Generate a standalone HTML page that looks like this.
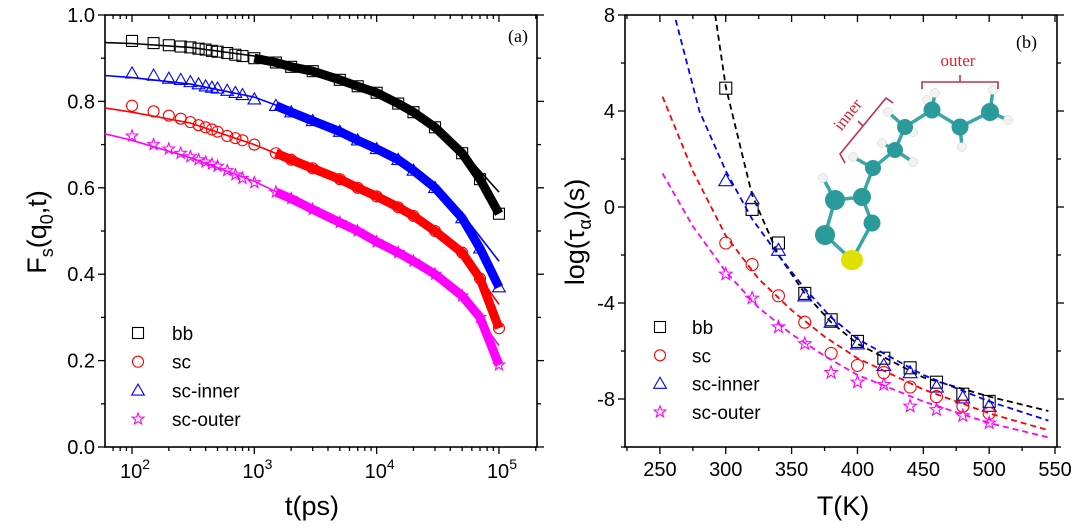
<!DOCTYPE html>
<html><head><meta charset="utf-8"><style>
body{margin:0;background:#fff;}
svg{display:block;font-family:"Liberation Sans",sans-serif;}
</style></head><body>
<svg id="fig" width="1080" height="529" viewBox="0 0 1080 529" xmlns="http://www.w3.org/2000/svg">
<g id="pa"></g>
<g id="pb"></g>
<g id="mol"></g>
</svg>
<script>
// ---- Panel (a) data ----
const tTimes = [100,150,200,250,300,350,400,450,500,600,700,800,1000,1500,2000,3000,5000,7000,10000,15000,20000,30000,50000,70000,100000];
const bbData = [0.94,0.935,0.93,0.927,0.925,0.922,0.92,0.917,0.915,0.912,0.908,0.905,0.90,0.89,0.88,0.87,0.85,0.835,0.82,0.795,0.775,0.74,0.68,0.62,0.54];
const scData = [0.79,0.777,0.767,0.76,0.752,0.745,0.74,0.735,0.73,0.72,0.715,0.71,0.70,0.68,0.665,0.645,0.62,0.60,0.58,0.555,0.535,0.50,0.45,0.39,0.275];
const innerData = [0.865,0.86,0.853,0.85,0.845,0.84,0.835,0.832,0.83,0.825,0.82,0.815,0.805,0.79,0.775,0.755,0.73,0.71,0.69,0.665,0.64,0.60,0.53,0.46,0.37];
const outerData = [0.72,0.70,0.69,0.68,0.672,0.665,0.66,0.655,0.65,0.64,0.63,0.622,0.612,0.59,0.575,0.55,0.52,0.50,0.475,0.45,0.43,0.40,0.35,0.30,0.19];
const fitTimes = [60,100,300,1000,3000,10000,30000,50000,100000];
const bbFit = [0.936,0.934,0.925,0.905,0.87,0.82,0.74,0.685,0.59];
const innerFit = [0.86,0.855,0.84,0.81,0.76,0.69,0.60,0.54,0.43];
const scFit = [0.785,0.775,0.75,0.70,0.645,0.58,0.50,0.45,0.33];
const outerFit = [0.725,0.71,0.67,0.615,0.55,0.475,0.40,0.35,0.235];
const aYTicks = ["0.0","0.2","0.4","0.6","0.8","1.0"];
const aXTickExp = ["2","3","4","5"];

// ---- Panel (b) data ----
const temps = [300,320,340,360,380,400,420,440,460,480,500];
const bbTau = [4.95,-0.1,-1.5,-3.6,-4.7,-5.6,-6.3,-6.7,-7.3,-7.8,-8.1];
const innerTau = [1.1,0.35,-1.8,-3.7,-4.8,-5.7,-6.6,-6.9,-7.5,-7.95,-8.3];
const scTau = [-1.5,-2.4,-3.7,-4.8,-6.1,-6.6,-6.9,-7.5,-7.9,-8.3,-8.6];
const outerTau = [-2.8,-3.8,-5.0,-5.7,-6.9,-7.3,-7.4,-8.3,-8.45,-8.7,-9.0];
const bbFitT = [292,300,320,340,360,380,400,450,500,545];
const bbFitV = [8,5.0,0.5,-2.0,-3.6,-4.8,-5.7,-7.1,-7.9,-8.5];
const innerFitT = [262,280,300,320,340,360,380,400,450,500,545];
const innerFitV = [7.8,4.0,1.5,-0.5,-2.0,-3.4,-4.6,-5.5,-7.0,-8.1,-8.9];
const scFitT = [252,275,300,325,350,375,400,450,500,545];
const scFitV = [4.6,1.5,-1.2,-3.0,-4.3,-5.4,-6.3,-7.6,-8.6,-9.3];
const outerFitT = [252,275,300,325,350,375,400,450,500,545];
const outerFitV = [1.4,-0.8,-2.7,-4.2,-5.3,-6.2,-7.0,-8.1,-9.0,-9.6];
const bXTicks = [250,300,350,400,450,500,550];
const bYTicks = [-8,-4,0,4,8];

const NS="http://www.w3.org/2000/svg";
function mk(parent,tag,attrs,text){const e=document.createElementNS(NS,tag);for(const k in attrs)e.setAttribute(k,attrs[k]);if(text!==undefined)e.textContent=text;parent.appendChild(e);return e;}

function marker(g,type,x,y,color,s){
  let e;
  if(type==='sq'){e=mk(g,'rect',{x:x-s,y:y-s,width:2*s,height:2*s,fill:'none',stroke:color,'stroke-width':1.1});}
  else if(type==='ci'){e=mk(g,'circle',{cx:x,cy:y,r:s,fill:'none',stroke:color,'stroke-width':1.1});}
  else if(type==='tr'){e=mk(g,'polygon',{points:`${x},${y-s*1.15} ${x-s*1.15},${y+s*0.85} ${x+s*1.15},${y+s*0.85}`,fill:'none',stroke:color,'stroke-width':1.1});}
  else {let p=[];for(let i=0;i<10;i++){const r=i%2?s*0.45:s*1.1;const a=-Math.PI/2+i*Math.PI/5;p.push((x+r*Math.cos(a)).toFixed(1)+','+(y+r*Math.sin(a)).toFixed(1));}
    e=mk(g,'polygon',{points:p.join(' '),fill:'none',stroke:color,'stroke-width':1.1});}
  return e;
}

// ===== Panel A =====
const pa=document.getElementById('pa');
const aL=105,aR=537,aT=15,aB=447;
const lmin=1.779,lmax=5.311;
const ax=t=>aL+(Math.log10(t)-lmin)/(lmax-lmin)*(aR-aL);
const ay=v=>aB-v*(aB-aT);
mk(pa,'rect',{x:aL,y:aT,width:aR-aL,height:aB-aT,fill:'none',stroke:'#000','stroke-width':1.6});
for(let i=0;i<=10;i++){const v=i/10,y=ay(v),len=i%2?4:7;
  mk(pa,'line',{x1:aL-len,y1:y,x2:aL,y2:y,stroke:'#000','stroke-width':1.3});
  mk(pa,'line',{x1:aR,y1:y,x2:aR+len,y2:y,stroke:'#000','stroke-width':1.3});}
aYTicks.forEach((lab,i)=>{const t=mk(pa,'text',{x:aL-10,y:ay(parseFloat(lab))+7,'font-size':20,'text-anchor':'end'},lab);
  });
for(let d=1;d<=5;d++)for(let m=1;m<10;m++){const t=m*Math.pow(10,d);if(Math.log10(t)<lmin||Math.log10(t)>lmax)continue;const x=ax(t),len=m===1?7:4;
  mk(pa,'line',{x1:x,y1:aB,x2:x,y2:aB+len,stroke:'#000','stroke-width':1.3});
  mk(pa,'line',{x1:x,y1:aT,x2:x,y2:aT+len,stroke:'#000','stroke-width':1.3});}
aXTickExp.forEach(e=>{const x=ax(Math.pow(10,+e));const t=mk(pa,'text',{x:x+3,y:478,'font-size':20,'text-anchor':'middle'});
  
  mk(t,'tspan',{},'10');mk(t,'tspan',{dy:-9,'font-size':14},e);});
let tl=mk(pa,'text',{x:312,y:515,'font-size':27,'text-anchor':'middle'},'t(ps)');
let yl=mk(pa,'text',{transform:'translate(46,232) rotate(-90)','font-size':27,'text-anchor':'middle'});

mk(yl,'tspan',{},'F');mk(yl,'tspan',{dy:7,'font-size':18},'s');mk(yl,'tspan',{dy:-7},'(q');mk(yl,'tspan',{dy:7,'font-size':18},'0');mk(yl,'tspan',{dy:-7},',t)');
let la=mk(pa,'text',{x:528,y:42,'font-size':18,'text-anchor':'end','font-family':'Liberation Serif, serif'},'(a)');

const aSeries=[[bbData,bbFit,'#000','sq','bb',1000],[innerData,innerFit,'#0000ff','tr','sc-inner',1500],[scData,scFit,'#ff0000','ci','sc',1500],[outerData,outerFit,'#ff00ff','st','sc-outer',1500]];
aSeries.forEach(([d,f,c,typ,name,bandFrom])=>{
  const g=mk(pa,'g',{});
  const band=[];tTimes.forEach((t,i)=>{if(t>=bandFrom)band.push(ax(t).toFixed(1)+','+ay(d[i]).toFixed(1));});
  mk(g,'polyline',{points:band.join(' '),fill:'none',stroke:c,'stroke-width':9,'stroke-linejoin':'round'});
  tTimes.forEach((t,i)=>{const m=marker(g,typ,ax(t),ay(d[i]),c,5.5);});
  const fp=fitTimes.map((t,i)=>ax(t).toFixed(1)+','+ay(f[i]).toFixed(1)).join(' ');
  const fl=mk(g,'polyline',{points:fp,fill:'none',stroke:c,'stroke-width':1.6});
});
const legA=mk(pa,'g',{});
[['sq','#000','bb'],['ci','#ff0000','sc'],['tr','#0000ff','sc-inner'],['st','#ff00ff','sc-outer']].forEach(([typ,c,n],i)=>{
  const y=333+i*28.7;const g=mk(legA,'g',{});
  marker(g,typ,138,y,c,5.5);mk(g,'text',{x:172,y:y+7,'font-size':19},n);});

// ===== Panel B =====
const pb=document.getElementById('pb');
const bL=625,bR=1057,bT=15,bB=447,tmin=223.5,tmax=551.5,vmin=-10,vmax=8;
const bx=T=>bL+(T-tmin)/(tmax-tmin)*(bR-bL);
const by=v=>bB-(v-vmin)/(vmax-vmin)*(bB-bT);
mk(pb,'rect',{x:bL,y:bT,width:bR-bL,height:bB-bT,fill:'none',stroke:'#000','stroke-width':1.6});
for(let v=-10;v<=8;v+=2){const y=by(v),len=v%4===0?7:4;
  mk(pb,'line',{x1:bL-len,y1:y,x2:bL,y2:y,stroke:'#000','stroke-width':1.3});
  mk(pb,'line',{x1:bR,y1:y,x2:bR+len,y2:y,stroke:'#000','stroke-width':1.3});}
bYTicks.forEach(v=>{const t=mk(pb,'text',{x:bL-10,y:by(v)+7,'font-size':20,'text-anchor':'end'},String(v));
  });
for(let T=225;T<=550;T+=25){const x=bx(T),len=T%50===0?7:4;
  mk(pb,'line',{x1:x,y1:bB,x2:x,y2:bB+len,stroke:'#000','stroke-width':1.3});
  mk(pb,'line',{x1:x,y1:bT,x2:x,y2:bT+len,stroke:'#000','stroke-width':1.3});}
bXTicks.forEach(T=>{const t=mk(pb,'text',{x:bx(T),y:476,'font-size':20,'text-anchor':'middle'},String(T));
  });
tl=mk(pb,'text',{x:843,y:515,'font-size':27,'text-anchor':'middle'},'T(K)');
yl=mk(pb,'text',{transform:'translate(584,232) rotate(-90)','font-size':27,'text-anchor':'middle'});

mk(yl,'tspan',{},'log(τ');mk(yl,'tspan',{dy:7,'font-size':18},'α');mk(yl,'tspan',{dy:-7},')(s)');
la=mk(pb,'text',{x:1037,y:48,'font-size':18,'text-anchor':'end','font-family':'Liberation Serif, serif'},'(b)');

const bSeries=[[bbFitT,bbFitV,bbTau,'#000','sq','bb'],[innerFitT,innerFitV,innerTau,'#0000ff','tr','sc-inner'],[scFitT,scFitV,scTau,'#ff0000','ci','sc'],[outerFitT,outerFitV,outerTau,'#ff00ff','st','sc-outer']];
bSeries.forEach(([ft,fv,d,c,typ,name])=>{
  const g=mk(pb,'g',{});
  const fl=mk(g,'polyline',{points:ft.map((T,i)=>bx(T).toFixed(1)+','+by(fv[i]).toFixed(1)).join(' '),fill:'none',stroke:c,'stroke-width':1.8,'stroke-dasharray':'6,4'});
  
  temps.forEach((T,i)=>{const m=marker(g,typ,bx(T),by(d[i]),c,6);});
});
const legB=mk(pb,'g',{});
[['sq','#000','bb'],['ci','#ff0000','sc'],['tr','#0000ff','sc-inner'],['st','#ff00ff','sc-outer']].forEach(([typ,c,n],i)=>{
  const y=327+i*28.3;const g=mk(legB,'g',{});
  marker(g,typ,660,y,c,5.5);mk(g,'text',{x:692,y:y+7,'font-size':19},n);});

// ===== Molecule =====
const mol=document.getElementById('mol');
const bonds=[[852,260,825,235],[825,235,835,200],[835,200,862,197],[862,197,872,223],[872,223,852,260],[835,200,823,178],[862,197,873,168],[873,168,895,150],[895,150,905,127],[905,127,932,110],[932,110,960,127],[960,127,990,112],
[873,168,853,157],[895,150,882,143],[895,150,913,162],[905,127,888,112],[905,127,913,132],[932,110,927,100],[932,110,935,93],[960,127,962,147],[990,112,993,90],[990,112,1008,120]];
bonds.forEach(b=>mk(mol,'line',{x1:b[0],y1:b[1],x2:b[2],y2:b[3],stroke:'#3aa6a6','stroke-width':3.5}));
[[823,178],[853,157],[882,143],[913,162],[888,112],[913,132],[927,100],[935,93],[962,147],[993,90],[1008,120]].forEach(h=>mk(mol,'circle',{cx:h[0],cy:h[1],r:4.5,fill:'#f2f2f2',stroke:'#ccc','stroke-width':0.5}));
[[825,235,10],[835,200,10],[862,197,9],[872,223,8.5],[873,168,8],[895,150,8],[905,127,8],[932,110,8.5],[960,127,8.5],[990,112,9]].forEach(c=>mk(mol,'circle',{cx:c[0],cy:c[1],r:c[2],fill:'#2a9a9a'}));
mk(mol,'ellipse',{cx:852,cy:260,rx:11,ry:10,fill:'#e0e000'});
mk(mol,'polyline',{points:'922,89 922,82 998,82 998,89',fill:'none',stroke:'#c03050','stroke-width':1.6});
mk(mol,'line',{x1:960,y1:82,x2:960,y2:75,stroke:'#c03050','stroke-width':1.6});
let ot=mk(mol,'text',{x:958,y:66,'font-size':17,'text-anchor':'middle',fill:'#e02030','font-family':'Liberation Serif, serif'},'outer');
mk(mol,'polyline',{points:'845,163 840,154 886,98 893,103',fill:'none',stroke:'#c03050','stroke-width':1.6});
mk(mol,'line',{x1:863,y1:126,x2:858,y2:121,stroke:'#c03050','stroke-width':1.6});
let it=mk(mol,'text',{transform:'translate(852,118) rotate(-52)','font-size':17,'text-anchor':'middle',fill:'#e02030','font-family':'Liberation Serif, serif'},'inner');
</script>
</body></html>
